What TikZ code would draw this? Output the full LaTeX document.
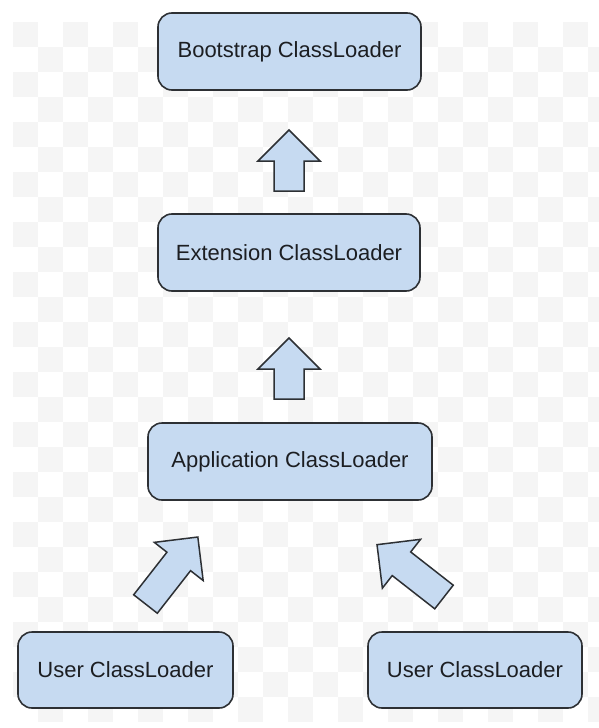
\documentclass[tikz,border=0pt]{standalone}
\usepackage{fontspec}
\setmainfont{Liberation Sans}
\definecolor{boxfill}{RGB}{198,218,241}
\definecolor{boxline}{RGB}{45,48,52}
\definecolor{txt}{RGB}{28,30,34}
\definecolor{checker}{RGB}{245,245,245}
\tikzset{
  loader/.style={draw=boxline, fill=boxfill, line width=1.6pt, rounded corners=14pt,
    text=txt, font=\fontsize{22pt}{26pt}\selectfont, inner sep=0pt, anchor=center},
  arrowbody/.style={draw=boxline, fill=boxfill, line width=1.5pt, line join=miter},
  blockarrow/.pic={\draw[arrowbody] (0,-15) -- (30,-15) -- (30,-31) -- (61,0) -- (30,31) -- (30,15) -- (0,15) -- cycle;},
  blockarrowlong/.pic={\draw[arrowbody] (0,-15) -- (54,-15) -- (54,-31) -- (85,0) -- (54,31) -- (54,15) -- (0,15) -- cycle;}
}
\begin{document}
\begin{tikzpicture}[x=1pt,y=-1pt]
\useasboundingbox (0,0) rectangle (598,728);
\fill[white] (0,0) rectangle (598,728);
% faint checkerboard background
\foreach \i in {0,...,23}{
  \foreach \j in {0,...,27}{
    \pgfmathtruncatemacro{\parity}{mod(\i+\j,2)}
    \ifnum\parity=0
      \fill[checker] ({13+25*\i},{22+25*\j}) rectangle ++(25,25);
    \fi
  }
}
% boxes
\node[loader, minimum width=263pt, minimum height=77pt] (boot) at (289.5,51.5) {Bootstrap ClassLoader};
\node[loader, minimum width=262pt, minimum height=77pt] (ext) at (289,252.5) {Extension ClassLoader};
\node[loader, minimum width=284pt, minimum height=77pt] (app) at (290,461.5) {Application ClassLoader};
\node[loader, minimum width=215pt, minimum height=76pt] (user1) at (125.5,670) {User ClassLoader};
\node[loader, minimum width=214pt, minimum height=76pt] (user2) at (475,670) {User ClassLoader};
% block arrows
\coordinate (a1) at (289,191);
\coordinate (a2) at (289,399);
\coordinate (a3) at (145.5,604);
\coordinate (a4) at (444,597);
\pic[rotate=90] at (a1) {blockarrow};
\pic[rotate=90] at (a2) {blockarrow};
\pic[rotate=52] at (a3) {blockarrowlong};
\pic[rotate=142] at (a4) {blockarrowlong};
\end{tikzpicture}
\end{document}
